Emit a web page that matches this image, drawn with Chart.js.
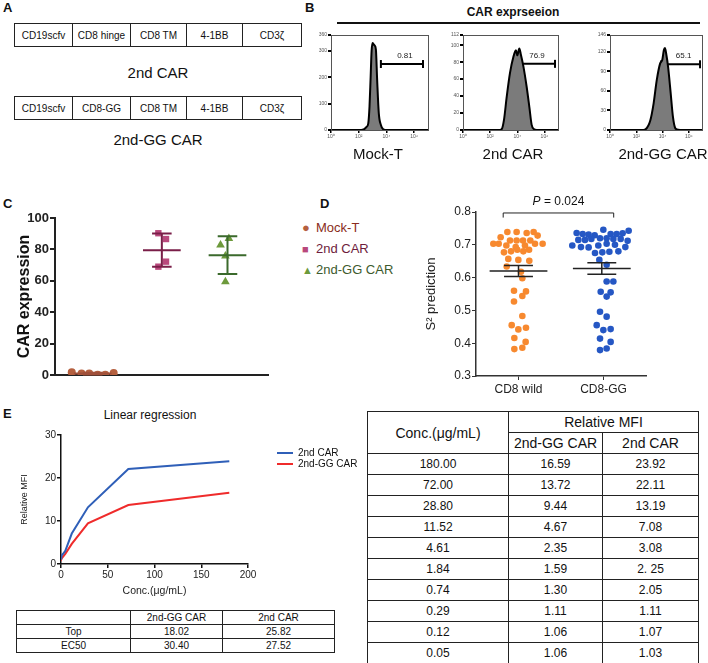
<!DOCTYPE html>
<html>
<head>
<meta charset="utf-8">
<script src="https://cdn.jsdelivr.net/npm/chart.js@4.4.1/dist/chart.umd.min.js"></script>
<style>
  body { margin: 0; background: #fff; font-family: "Liberation Sans", Arial, sans-serif; color: #111; }
  #page { position: relative; width: 708px; height: 663px; overflow: hidden; }
  .panel { position: absolute; font-weight: bold; font-size: 13px; }
  .ctr { position: absolute; transform: translate(-50%, -50%); white-space: nowrap; }
  .boxrow { position: absolute; left: 14px; display: flex; height: 24px; border: 1px solid #222; box-sizing: border-box; }
  .boxrow div { border-right: 1px solid #222; font-size: 10px; display: flex; align-items: center; justify-content: center; }
  .boxrow div:last-child { border-right: none; }
  canvas { position: absolute; }
  table { position: absolute; border-collapse: collapse; table-layout: fixed; }
  td, th { text-align: center; font-weight: normal; padding: 0; }
  #fitTable td { border: 1px solid #222; font-size: 10px; height: 13px; }
  #mfiTable td, #mfiTable th { border: 1.5px solid #222; font-size: 12px; height: 20px; }
  #mfiTable th { font-size: 14px; }
  .leg { position: absolute; font-size: 13px; white-space: nowrap; }
  .leg span { display: inline-block; width: 14px; }
  .eleg { position: absolute; font-size: 10px; white-space: nowrap; display: flex; align-items: center; }
  .eleg i { display: inline-block; width: 16px; height: 2px; margin-right: 5px; }
</style>
</head>
<body>
<div id="page">
  <div class="panel" style="left:3px;top:0px">A</div>
  <div class="boxrow" id="row1" style="top:23px"></div>
  <div class="ctr" style="left:158px;top:72px;font-size:15px">2nd CAR</div>
  <div class="boxrow" id="row2" style="top:96px"></div>
  <div class="ctr" style="left:158px;top:139px;font-size:15px">2nd-GG CAR</div>

  <div class="panel" style="left:305px;top:0px">B</div>
  <div class="ctr" style="left:513px;top:12px;font-size:12px;font-weight:bold">CAR exprseeion</div>
  <div style="position:absolute;left:337px;top:22px;width:363px;height:2px;background:#111"></div>
  <canvas id="h0" width="130" height="117" style="left:305px;top:28px"></canvas>
  <canvas id="h1" width="128" height="117" style="left:437px;top:28px"></canvas>
  <canvas id="h2" width="124" height="117" style="left:584px;top:28px"></canvas>
  <div class="ctr" style="left:378px;top:153px;font-size:15px">Mock-T</div>
  <div class="ctr" style="left:513px;top:153px;font-size:15px">2nd CAR</div>
  <div class="ctr" style="left:663px;top:153px;font-size:15px">2nd-GG CAR</div>

  <div class="panel" style="left:3px;top:196px">C</div>
  <canvas id="chartC" width="290" height="190" style="left:0px;top:200px"></canvas>
  <div class="leg" style="left:302px;top:220px;color:#8a2c20"><span style="color:#b5603f">●</span>Mock-T</div>
  <div class="leg" style="left:302px;top:241px;color:#6e1c3c"><span style="color:#b9487c;font-size:11px">■</span>2nd CAR</div>
  <div class="leg" style="left:302px;top:262px;color:#3d5a2d"><span style="color:#6d9a3b;font-size:11px">▲</span>2nd-GG CAR</div>

  <div class="panel" style="left:320px;top:196px">D</div>
  <canvas id="chartD" width="270" height="210" style="left:400px;top:190px"></canvas>

  <div class="panel" style="left:3px;top:406px">E</div>
  <div class="ctr" style="left:150px;top:415px;font-size:12px">Linear regression</div>
  <canvas id="chartE" width="280" height="190" style="left:0px;top:420px"></canvas>
  <div class="eleg" style="left:277px;top:447px"><i style="background:#2f5fb8"></i>2nd CAR</div>
  <div class="eleg" style="left:277px;top:458px"><i style="background:#ef2b2b"></i>2nd-GG CAR</div>

  <table id="fitTable" style="left:16px;top:610px;width:318px"></table>
  <table id="mfiTable" style="left:367px;top:411px;width:331px"></table>
</div>

<script>
// Panel A construct parts
const car2Parts = ['CD19scfv', 'CD8 hinge', 'CD8 TM', '4-1BB', 'CD3ζ'];
const ggParts = ['CD19scfv', 'CD8-GG', 'CD8 TM', '4-1BB', 'CD3ζ'];
const partWidths = [57, 57, 55, 55, 58];

// Panel B flow histograms (x = log decade, y = count)
const mockPos = [2.2, 2.4, 2.57, 2.69, 2.78, 2.86, 2.93, 3.0, 3.07, 3.15, 3.24, 3.33, 3.45, 3.6, 3.76, 3.9];
const mockCount = [0, 3, 12, 25, 90, 200, 300, 330, 325, 320, 305, 190, 63, 19, 3, 0];
const car2Pos = [2.7, 2.85, 3.02, 3.22, 3.46, 3.71, 3.9, 4.0, 4.15, 4.25, 4.45, 4.69, 4.89, 5.06, 5.23, 5.4];
const car2Count = [0, 1, 12, 39, 67, 86, 94, 88, 96, 90, 75, 51, 27, 6, 1, 0];
const ggPos = [2.5, 2.7, 3.07, 3.32, 3.56, 3.81, 3.98, 4.1, 4.18, 4.27, 4.42, 4.62, 4.79, 4.96, 5.1, 5.3];
const ggCount = [0, 1, 15, 41, 77, 102, 108, 123, 126, 118, 97, 56, 20, 3, 1, 0];
const histYMax = [360, 112, 146];
const histYStep = [100, 20, 30];
const gateFrom = [3.6, 3.68, 3.9];
const gateTo = [6.64, 6.78, 6.85];
const gateLevel = [250, 78, 101];
const gateLabels = ['0.81', '76.9', '65.1'];
const decadeLabels = ['10⁰', '10²', '10⁴', '10⁶'];

// Panel C CAR expression
const mockX = [0.69, 0.83, 0.94, 1.06, 1.17, 1.29];
const mockY = [1.7, 1.0, 1.0, 0.1, 0.1, 1.2];
const car2X = [1.93, 2.04, 2.04, 1.93];
const car2Y = [90.3, 86.6, 72.2, 69.0];
const ggX = [2.82, 2.94, 2.89, 2.89];
const ggY = [82.8, 87.0, 75.8, 59.4];
const cCenters = [0.99, 1.98, 2.92];
const cMean = [0.9, 79.5, 76.3];
const cLow = [0.3, 68.9, 64.3];
const cHigh = [1.5, 90.1, 88.4];

// Panel D S2 prediction
const dCats = ['CD8 wild', 'CD8-GG'];
const wildX = [0.869, 0.978, 1.096, 1.178, 1.225, 0.790, 0.900, 0.978, 1.053, 1.139, 0.704, 0.767, 0.857, 0.967,
  1.076, 1.194, 1.284, 0.829, 0.912, 0.986, 1.057, 1.124, 0.880, 0.998, 1.127, 0.861, 1.029, 1.045, 0.947, 1.088,
  1.045, 0.947, 1.045, 0.920, 1.088, 0.998, 0.951, 1.084, 0.951, 1.045];
const wildY = [0.739, 0.739, 0.736, 0.739, 0.728, 0.723, 0.713, 0.713, 0.713, 0.713, 0.703, 0.703, 0.698, 0.693,
  0.698, 0.703, 0.703, 0.677, 0.680, 0.685, 0.680, 0.685, 0.657, 0.654, 0.651, 0.634, 0.618, 0.598, 0.560, 0.558,
  0.544, 0.527, 0.483, 0.455, 0.447, 0.442, 0.416, 0.404, 0.382, 0.386];
const ggDX = [1.684, 1.755, 1.825, 1.896, 1.998, 2.084, 2.155, 2.225, 2.296, 1.704, 1.782, 1.857, 1.959, 2.037,
  2.116, 2.202, 2.284, 1.633, 1.735, 1.825, 1.939, 2.037, 2.135, 2.257, 1.900, 1.986, 2.069, 2.175, 1.951, 2.037,
  2.037, 2.116, 1.967, 2.084, 2.037, 1.959, 2.037, 1.920, 1.998, 2.084, 1.959, 2.084, 1.959, 2.037];
const ggDY = [0.736, 0.733, 0.731, 0.729, 0.746, 0.733, 0.733, 0.735, 0.743, 0.715, 0.715, 0.718, 0.720, 0.720,
  0.718, 0.718, 0.712, 0.698, 0.693, 0.692, 0.698, 0.703, 0.700, 0.693, 0.675, 0.677, 0.679, 0.680, 0.654, 0.639,
  0.588, 0.588, 0.557, 0.555, 0.542, 0.496, 0.481, 0.455, 0.440, 0.443, 0.414, 0.404, 0.379, 0.384];
const dCenters = [1.0, 1.98];
const dMean = [0.620, 0.628];
const dLow = [0.603, 0.610];
const dHigh = [0.637, 0.645];
const pLabel = '= 0.024';

// Panel E titration
const concLabels = ['180.00', '72.00', '28.80', '11.52', '4.61', '1.84', '0.74', '0.29', '0.12', '0.05'];
const ggMfiLabels = ['16.59', '13.72', '9.44', '4.67', '2.35', '1.59', '1.30', '1.11', '1.06', '1.06'];
const car2MfiLabels = ['23.92', '22.11', '13.19', '7.08', '3.08', '2. 25', '2.05', '1.11', '1.07', '1.03'];
const fitRows = ['Top', 'EC50'];
const fitGG = ['18.02', '30.40'];
const fit2nd = ['25.82', '27.52'];

const num = s => parseFloat(s.replace(/\s/g, ''));
const pts = (xs, ys) => xs.map((x, i) => ({ x, y: ys[i] }));
const FONT = '"Liberation Sans", Arial, sans-serif';
Chart.defaults.font.family = FONT;
Chart.defaults.color = '#222';

// panel A boxes
[['row1', car2Parts], ['row2', ggParts]].forEach(([id, parts]) => {
  const row = document.getElementById(id);
  parts.forEach((p, i) => {
    const d = document.createElement('div');
    d.style.width = partWidths[i] + 'px';
    d.textContent = p;
    row.appendChild(d);
  });
});

// tables
const fitTable = document.getElementById('fitTable');
fitTable.innerHTML = '<colgroup><col style="width:114px"><col style="width:92px"><col style="width:112px"></colgroup>' +
  '<tr><td></td><td>2nd-GG CAR</td><td>2nd CAR</td></tr>' +
  fitRows.map((r, i) => `<tr><td>${r}</td><td>${fitGG[i]}</td><td>${fit2nd[i]}</td></tr>`).join('');

const mfiTable = document.getElementById('mfiTable');
mfiTable.innerHTML = '<colgroup><col style="width:141px"><col style="width:94px"><col style="width:96px"></colgroup>' +
  '<tr><th rowspan="2">Conc.(μg/mL)</th><th colspan="2">Relative MFI</th></tr>' +
  '<tr><th>2nd-GG CAR</th><th>2nd CAR</th></tr>' +
  concLabels.map((c, i) => `<tr><td>${c}</td><td>${ggMfiLabels[i]}</td><td>${car2MfiLabels[i]}</td></tr>`).join('');

// plot frame for flow histograms
const framePlugin = {
  id: 'frame',
  afterDraw(chart) {
    const { ctx, chartArea: a } = chart;
    ctx.save();
    ctx.strokeStyle = '#555';
    ctx.lineWidth = 1;
    ctx.strokeRect(a.left + 0.5, a.top + 0.5, a.right - a.left, a.bottom - a.top);
    ctx.restore();
  }
};

function gateText(i) {
  return {
    id: 'gateText',
    afterDatasetsDraw(chart) {
      const { ctx, scales: { x, y } } = chart;
      ctx.save();
      ctx.font = '8px ' + FONT;
      ctx.fillStyle = '#222';
      ctx.textAlign = 'center';
      ctx.fillText(gateLabels[i], x.getPixelForValue((gateFrom[i] + gateTo[i]) / 2) + 3, y.getPixelForValue(gateLevel[i]) - 6);
      ctx.restore();
    }
  };
}

function makeHist(id, i, xs, ys, padRight) {
  new Chart(document.getElementById(id), {
    type: 'line',
    data: {
      datasets: [
        { data: pts(xs, ys), fill: 'origin', backgroundColor: '#7b7b7b', borderColor: '#000', borderWidth: 2,
          pointRadius: 0, cubicInterpolationMode: 'monotone' },
        { data: [{ x: gateFrom[i], y: gateLevel[i] }, { x: gateTo[i], y: gateLevel[i] }], borderColor: '#000',
          borderWidth: 2, fill: false, pointStyle: 'line', rotation: 90, pointRadius: 4, pointBorderWidth: 2,
          pointBorderColor: '#000' }
      ]
    },
    options: {
      responsive: false, animation: false, devicePixelRatio: 1,
      layout: { padding: { top: 7, right: padRight, left: 0, bottom: 0 } },
      plugins: { legend: { display: false }, tooltip: { enabled: false } },
      scales: {
        x: {
          type: 'linear', min: 0, max: 7,
          afterBuildTicks: s => { s.ticks = [0, 2, 4, 6].map(v => ({ value: v })); },
          ticks: { font: { size: 5 }, color: '#555', padding: 1, maxRotation: 0,
            callback: v => decadeLabels[v / 2] },
          grid: { drawOnChartArea: false, tickLength: 3, color: '#000', lineWidth: 1.5 },
          border: { color: '#000', width: 1.5 },
          afterFit: s => { s.height = 15; }
        },
        y: {
          min: 0, max: histYMax[i],
          ticks: { stepSize: histYStep[i], font: { size: 5 }, color: '#555', padding: 1 },
          grid: { drawOnChartArea: false, tickLength: 3, color: '#000', lineWidth: 2 },
          border: { color: '#555', width: 1 },
          afterFit: s => { s.width = 26; }
        }
      }
    },
    plugins: [framePlugin, gateText(i)]
  });
}

makeHist('h0', 0, mockPos, mockCount, 7);
makeHist('h1', 1, car2Pos, car2Count, 7);
makeHist('h2', 2, ggPos, ggCount, 3);

// mean and spread bars drawn through the scales
function meanBars(centers, mean, low, high, colors, meanHalf, capHalf, width) {
  return {
    id: 'meanBars',
    afterDatasetsDraw(chart) {
      const { ctx, scales: { x, y } } = chart;
      ctx.save();
      ctx.lineWidth = width;
      centers.forEach((c, i) => {
        const px = x.getPixelForValue(c);
        const m = x.getPixelForValue(c + meanHalf) - px;
        const k = x.getPixelForValue(c + capHalf) - px;
        const ym = y.getPixelForValue(mean[i]);
        const yl = y.getPixelForValue(low[i]);
        const yh = y.getPixelForValue(high[i]);
        ctx.strokeStyle = colors[i];
        ctx.beginPath();
        ctx.moveTo(px - m, ym); ctx.lineTo(px + m, ym);
        ctx.moveTo(px, yl); ctx.lineTo(px, yh);
        ctx.moveTo(px - k, yl); ctx.lineTo(px + k, yl);
        ctx.moveTo(px - k, yh); ctx.lineTo(px + k, yh);
        ctx.stroke();
      });
      ctx.restore();
    }
  };
}

// Panel C
new Chart(document.getElementById('chartC'), {
  type: 'scatter',
  data: {
    datasets: [
      { label: 'Mock-T', data: pts(mockX, mockY), pointStyle: 'circle', pointRadius: 4, backgroundColor: '#b5603f', borderWidth: 0 },
      { label: '2nd CAR', data: pts(car2X, car2Y), pointStyle: 'rect', pointRadius: 4.5, backgroundColor: '#b9487c', borderWidth: 0 },
      { label: '2nd-GG CAR', data: pts(ggX, ggY), pointStyle: 'triangle', pointRadius: 5, backgroundColor: '#6d9a3b', borderWidth: 0 }
    ]
  },
  options: {
    responsive: false, animation: false, devicePixelRatio: 1,
    layout: { padding: { top: 18, right: 22, left: 0, bottom: 0 } },
    plugins: { legend: { display: false }, tooltip: { enabled: false } },
    scales: {
      x: {
        type: 'linear', min: 0.45, max: 3.5,
        ticks: { display: false },
        grid: { display: false },
        border: { color: '#222', width: 2 },
        afterFit: s => { s.height = 15; }
      },
      y: {
        min: 0, max: 100,
        ticks: { stepSize: 20, font: { size: 13, weight: 'bold' }, color: '#222', padding: 1 },
        grid: { drawOnChartArea: false, tickLength: 5, color: '#222', lineWidth: 2 },
        border: { color: '#222', width: 2 },
        title: { display: true, text: 'CAR expression', font: { size: 16, weight: 'bold' }, color: '#111', padding: { top: 15, bottom: 0 } },
        afterFit: s => { s.width = 55; }
      }
    }
  },
  plugins: [meanBars(cCenters, cMean, cLow, cHigh, ['#a0503a', '#7a1e48', '#3b6a2c'], 0.27, 0.14, 2)]
});

// Panel D
const bracket = {
  id: 'bracket',
  afterDraw(chart) {
    const { ctx, scales: { x, y } } = chart;
    const x1 = x.getPixelForValue(0.82), x2 = x.getPixelForValue(2.12);
    const yt = y.getPixelForValue(0.797), yb = y.getPixelForValue(0.783);
    ctx.save();
    ctx.strokeStyle = '#222';
    ctx.lineWidth = 1;
    ctx.beginPath();
    ctx.moveTo(x1, yb); ctx.lineTo(x1, yt); ctx.lineTo(x2, yt); ctx.lineTo(x2, yb);
    ctx.stroke();
    ctx.fillStyle = '#111';
    ctx.textBaseline = 'alphabetic';
    ctx.font = 'italic 12px ' + FONT;
    const pw = ctx.measureText('P ').width;
    ctx.font = '12px ' + FONT;
    const rw = ctx.measureText(pLabel).width;
    const cx = (x1 + x2) / 2;
    let sx = cx - (pw + rw) / 2;
    ctx.font = 'italic 12px ' + FONT;
    ctx.fillText('P ', sx, yt - 8);
    ctx.font = '12px ' + FONT;
    ctx.fillText(pLabel, sx + pw, yt - 8);
    ctx.restore();
  }
};

new Chart(document.getElementById('chartD'), {
  type: 'scatter',
  data: {
    datasets: [
      { data: pts(wildX, wildY), pointRadius: 3.3, backgroundColor: '#f7892f', borderWidth: 0 },
      { data: pts(ggDX, ggDY), pointRadius: 3.3, backgroundColor: '#2557c4', borderWidth: 0 }
    ]
  },
  options: {
    responsive: false, animation: false, devicePixelRatio: 1,
    layout: { padding: { top: 22, right: 24, left: 0, bottom: 0 } },
    plugins: { legend: { display: false }, tooltip: { enabled: false } },
    scales: {
      x: {
        type: 'linear', min: 0.5, max: 2.5,
        afterBuildTicks: s => { s.ticks = [1, 2].map(v => ({ value: v })); },
        ticks: { font: { size: 12 }, color: '#222', padding: 2, maxRotation: 0, callback: v => dCats[v - 1] },
        grid: { drawOnChartArea: false, tickLength: 4, color: '#333', lineWidth: 1 },
        border: { color: '#333', width: 1.5 },
        afterFit: s => { s.height = 24; }
      },
      y: {
        min: 0.3, max: 0.8,
        ticks: { stepSize: 0.1, font: { size: 12 }, color: '#222', padding: 1, callback: v => v.toFixed(1) },
        grid: { drawOnChartArea: false, tickLength: 4, color: '#333', lineWidth: 1 },
        border: { color: '#333', width: 1.5 },
        title: { display: true, text: 'S² prediction', font: { size: 13 }, color: '#222', padding: { top: 24, bottom: 0 } },
        afterFit: s => { s.width = 76; }
      }
    }
  },
  plugins: [meanBars(dCenters, dMean, dLow, dHigh, ['#222', '#222'], 0.34, 0.17, 1.5), bracket]
});

// Panel E
const concVals = concLabels.map(num);
new Chart(document.getElementById('chartE'), {
  type: 'scatter',
  data: {
    datasets: [
      { label: '2nd CAR', data: pts(concVals, car2MfiLabels.map(num)), showLine: true, borderColor: '#2f5fb8', borderWidth: 2, pointRadius: 0 },
      { label: '2nd-GG CAR', data: pts(concVals, ggMfiLabels.map(num)), showLine: true, borderColor: '#ef2b2b', borderWidth: 2, pointRadius: 0 }
    ]
  },
  options: {
    responsive: false, animation: false, devicePixelRatio: 1,
    layout: { padding: { top: 15, right: 32, left: 0, bottom: 0 } },
    plugins: { legend: { display: false }, tooltip: { enabled: false } },
    scales: {
      x: {
        type: 'linear', min: 0, max: 200,
        ticks: { stepSize: 50, font: { size: 10 }, color: '#222', padding: 1, maxRotation: 0 },
        grid: { drawOnChartArea: false, tickLength: 4, color: '#111', lineWidth: 1.5 },
        border: { color: '#111', width: 1.5 },
        title: { display: true, text: 'Conc.(μg/mL)', font: { size: 10.5 }, color: '#222', padding: { top: 0, bottom: 13 } },
        afterFit: s => { s.height = 46; }
      },
      y: {
        min: 0, max: 30,
        ticks: { stepSize: 10, font: { size: 10 }, color: '#222', padding: 1 },
        grid: { drawOnChartArea: false, tickLength: 4, color: '#111', lineWidth: 1.5 },
        border: { color: '#111', width: 1.5 },
        title: { display: true, text: 'Relative MFI', font: { size: 9 }, color: '#222', padding: { top: 19, bottom: 0 } },
        afterFit: s => { s.width = 61; }
      }
    }
  }
});
</script>
</body>
</html>
